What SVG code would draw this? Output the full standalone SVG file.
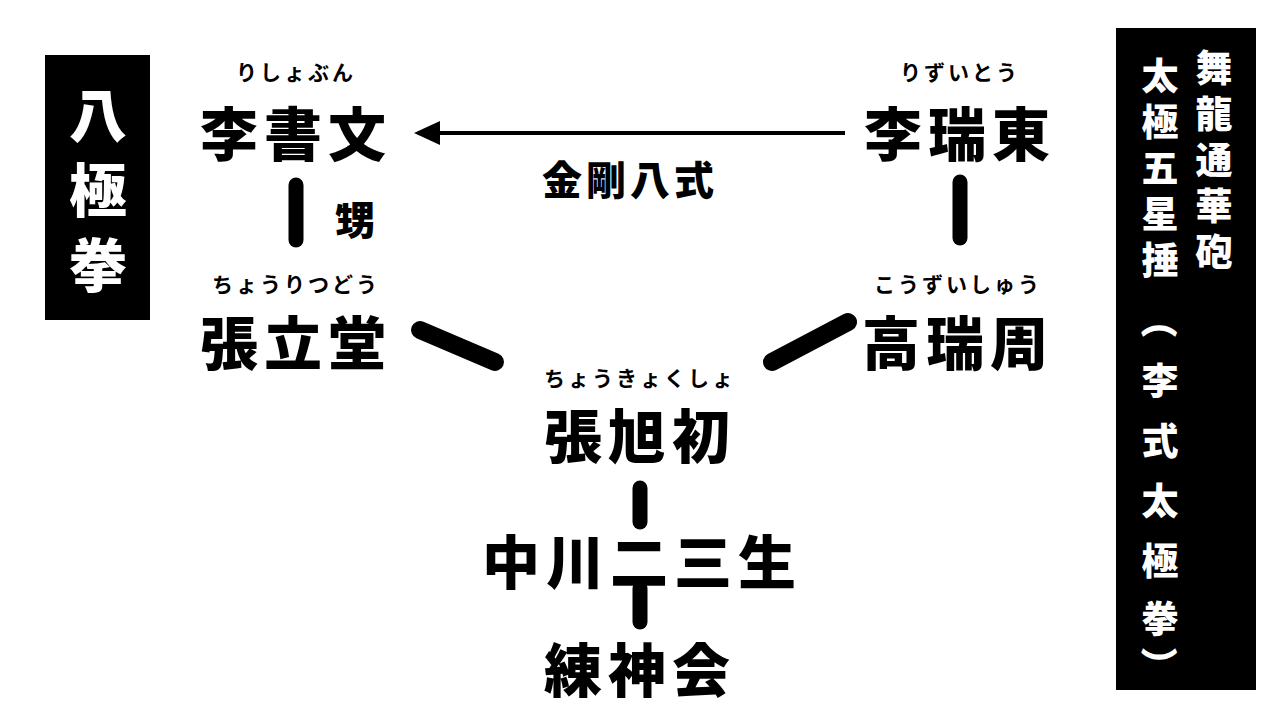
<svg xmlns="http://www.w3.org/2000/svg" width="1280" height="720" viewBox="0 0 1280 720">
<style>
.n{font-family:"Noto Sans CJK JP","Noto Sans CJK SC",sans-serif;font-weight:900;font-size:58px;text-anchor:middle;fill:#000;letter-spacing:6px}
.r{font-family:"Noto Sans CJK JP",sans-serif;font-weight:700;font-size:21px;text-anchor:middle;fill:#000;letter-spacing:3px}
.l{font-family:"Noto Sans CJK JP",sans-serif;font-weight:900;font-size:40px;text-anchor:middle;fill:#000;letter-spacing:4px}
.b{font-family:"Noto Sans CJK JP",sans-serif;font-weight:900;font-size:58px;text-anchor:middle;fill:#fff}
.bs{font-family:"Noto Sans CJK JP",sans-serif;font-weight:900;font-size:37px;text-anchor:middle;fill:#fff}
.s{stroke:#000;stroke-linecap:round;fill:none}
</style>
<rect width="1280" height="720" fill="#fff"/>
<g id="banner-left"><rect x="45" y="55" width="105" height="265" fill="#000"/>
<text class="b" x="98" y="137">八</text><text class="b" x="98" y="212">極</text><text class="b" x="98" y="287">拳</text></g>
<g id="banner-right"><rect x="1116" y="28" width="140" height="662" fill="#000"/>
<g class="bs">
<text x="1214" y="82">舞</text><text x="1214" y="128">龍</text><text x="1214" y="174">通</text><text x="1214" y="220">華</text><text x="1214" y="266">砲</text>
<text x="1160" y="90">太</text><text x="1160" y="136">極</text><text x="1160" y="182">五</text><text x="1160" y="228">星</text><text x="1160" y="274">捶</text>
<text x="1160" y="335" transform="rotate(90 1160 320)">（</text>
<text x="1160" y="395">李</text><text x="1160" y="455">式</text><text x="1160" y="515">太</text><text x="1160" y="575">極</text><text x="1160" y="633">拳</text>
<text x="1160" y="680" transform="rotate(90 1160 665)">）</text>
</g></g>
<g id="connectors">
<line x1="845" y1="133" x2="430" y2="133" stroke="#000" stroke-width="4"/>
<polygon points="414,133 440,121 440,145" fill="#000"/>
<text class="l" x="630" y="195">金剛八式</text>
<line class="s" x1="296" y1="185" x2="296" y2="240" stroke-width="15"/>
<text class="l" x="357" y="235">甥</text>
<line class="s" x1="960" y1="182" x2="960" y2="238" stroke-width="15"/>
<line class="s" x1="420" y1="330" x2="495" y2="362" stroke-width="18"/>
<line class="s" x1="772" y1="362" x2="848" y2="322" stroke-width="18"/>
<line class="s" x1="640" y1="488" x2="640" y2="522" stroke-width="15"/>
<line class="s" x1="640" y1="588" x2="640" y2="622" stroke-width="15"/>
</g>
<g id="n-lishowen"><text class="r" x="296" y="80">りしょぶん</text><text class="n" x="296" y="156">李書文</text></g>
<g id="n-lizuito"><text class="r" x="960" y="80">りずいとう</text><text class="n" x="960" y="156">李瑞東</text></g>
<g id="n-choritsudo"><text class="r" x="296" y="292">ちょうりつどう</text><text class="n" x="296" y="365">張立堂</text></g>
<g id="n-kozuishu"><text class="r" x="958" y="292">こうずいしゅう</text><text class="n" x="958" y="365">高瑞周</text></g>
<g id="n-chokyokusho"><text class="r" x="640" y="386">ちょうきょくしょ</text><text class="n" x="640" y="458">張旭初</text></g>
<g id="n-nakagawa"><text class="n" x="642" y="584">中川二三生</text></g>
<g id="n-renshinkai"><text class="n" x="640" y="692">練神会</text></g>
</svg>
